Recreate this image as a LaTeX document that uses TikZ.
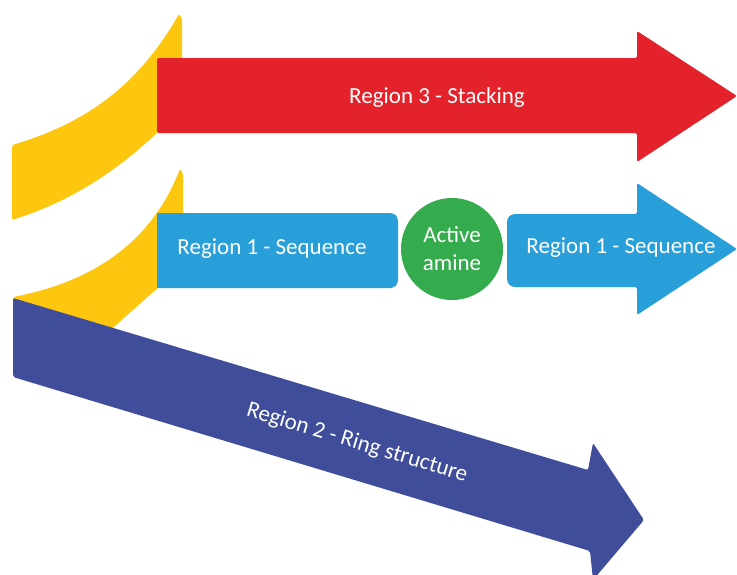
\documentclass[tikz,border=0pt]{standalone}
\usepackage{fontspec}
\setmainfont{Carlito}
\definecolor{stackred}{HTML}{E3222B}
\definecolor{ribbon}{HTML}{FCC70E}
\definecolor{seqblue}{HTML}{299FD9}
\definecolor{aminegreen}{HTML}{34AB4D}
\definecolor{ringblue}{HTML}{3F4D9A}
\begin{document}
\begin{tikzpicture}[x=1pt, y=-1pt,
      lbl/.style={text=white, font=\fontsize{23}{28}\selectfont},
      amine/.style={circle, fill=aminegreen, text=white, minimum size=102pt, inner sep=0pt, align=center, font=\fontsize{23}{28}\selectfont},
      head/.style={rounded corners=2pt}]
      \useasboundingbox (0,0) rectangle (737,574);
      % yellow ribbons behind
      \fill[ribbon, head] (12,145) .. controls (90,122) and (140,82) .. (179,14) -- (182,18) -- (182,120) -- (160,130) .. controls (120,168) and (75,200) .. (12,220) -- cycle;
      \fill[ribbon, head] (13,297) .. controls (90,282) and (150,245) .. (180,169) -- (183,173) -- (183,280) -- (160,286) -- (80,357) -- (13,340) -- cycle;
      % region 3
      \fill[stackred, head] (157,58) -- (637,58) -- (637,31) -- (737,96) -- (637,162) -- (637,133) -- (157,133) -- cycle;
      % region 1
      \fill[seqblue] (157,213) [rounded corners=8pt] -- (398,213) -- (398,288) [sharp corners] -- (157,288) -- cycle;
      \fill[seqblue, head] (507,250) [rounded corners=8pt] -- (507,214) [rounded corners=2pt] -- (637,214) -- (637,183) -- (737,249) -- (637,315) -- (637,287) [rounded corners=8pt] -- (507,287) -- cycle;
      % region 2
      \fill[ringblue, head] (13,298) -- (588,470) -- (593,443) -- (644,520) -- (593,580) -- (590,551) -- (13,377) -- cycle;

      \node[lbl] (stacking) at (437,97) {Region 3 - Stacking};
      \node[lbl] (seqleft) at (272,249) {Region 1 - Sequence};
      \node[amine] (active) at (452,249) {Active\\amine};
      \node[lbl] (seqright) at (621,248) {Region 1 - Sequence};
      \node[lbl, rotate=-16.7] (ring) at (357,443) {Region 2 - Ring structure};
\end{tikzpicture}
\end{document}
